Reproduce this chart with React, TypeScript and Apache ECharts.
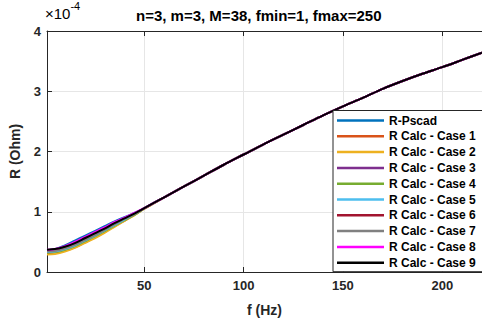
import React, { useEffect, useRef } from "react";
import * as echarts from "echarts";

// Frequency samples (Hz)
const freq = [1, 5, 10, 15, 20, 25, 30, 35, 40, 45, 50, 60, 70, 80, 90, 100, 110, 120, 130, 140, 150, 160, 170, 180, 190, 200, 210, 220];

// Resistance in units of 1e-4 Ohm; low-frequency parts differ per case
const pscadLow = [0.36, 0.38, 0.44, 0.52, 0.6, 0.68, 0.76, 0.84, 0.91, 0.98, 1.06];
const case1Low = [0.3, 0.31, 0.35, 0.41, 0.49, 0.57, 0.66, 0.76, 0.85, 0.95, 1.05];
const case2Low = [0.29, 0.3, 0.34, 0.4, 0.48, 0.56, 0.65, 0.75, 0.85, 0.94, 1.05];
const case3Low = [0.35, 0.36, 0.4, 0.46, 0.54, 0.62, 0.71, 0.8, 0.88, 0.96, 1.06];
const case4Low = [0.32, 0.33, 0.37, 0.43, 0.51, 0.59, 0.68, 0.77, 0.86, 0.95, 1.05];
const case5Low = [0.33, 0.34, 0.38, 0.44, 0.52, 0.6, 0.69, 0.78, 0.87, 0.96, 1.06];
const case6Low = [0.36, 0.37, 0.41, 0.47, 0.55, 0.63, 0.72, 0.81, 0.89, 0.97, 1.06];
const case7Low = [0.34, 0.35, 0.39, 0.45, 0.53, 0.61, 0.7, 0.79, 0.88, 0.96, 1.06];
const case8Low = [0.37, 0.38, 0.43, 0.5, 0.58, 0.66, 0.74, 0.83, 0.9, 0.98, 1.06];
const case9Low = [0.37, 0.38, 0.42, 0.48, 0.56, 0.64, 0.72, 0.81, 0.89, 0.97, 1.06];
// Above 60 Hz all curves coincide
const commonHigh = [1.24, 1.42, 1.6, 1.78, 1.95, 2.12, 2.28, 2.44, 2.6, 2.75, 2.89, 3.04, 3.17, 3.29, 3.4, 3.52, 3.64];

const seriesNames = [
  "R-Pscad",
  "R Calc - Case 1",
  "R Calc - Case 2",
  "R Calc - Case 3",
  "R Calc - Case 4",
  "R Calc - Case 5",
  "R Calc - Case 6",
  "R Calc - Case 7",
  "R Calc - Case 8",
  "R Calc - Case 9",
];
const seriesLow = [pscadLow, case1Low, case2Low, case3Low, case4Low, case5Low, case6Low, case7Low, case8Low, case9Low];
const colors = ["#0072BD", "#D95319", "#EDB120", "#7E2F8E", "#77AC30", "#4DBEEE", "#A2142F", "#808080", "#FF00FF", "#000000"];

const xTicks = [50, 100, 150, 200];
const yTicks = [0, 1, 2, 3, 4];

const FONT = "'Liberation Sans', Arial, sans-serif";
const AXIS = "#262626";

export default function App() {
  const ref = useRef<HTMLDivElement>(null);

  useEffect(() => {
    if (!ref.current) return;
    const chart = echarts.init(ref.current, null, { renderer: "svg" });

    const series = seriesNames.map((name, i) => ({
      name,
      type: "line",
      smooth: 0.3,
      showSymbol: false,
      symbol: "none",
      lineStyle: { width: 2, color: colors[i] },
      itemStyle: { color: colors[i] },
      data: freq.map((f, k) => [f, k < seriesLow[i].length ? seriesLow[i][k] : commonHigh[k - seriesLow[i].length]]),
    }));

    chart.setOption({
      animation: false,
      color: colors,
      title: {
        text: "n=3, m=3, M=38, fmin=1, fmax=250",
        left: 131,
        top: 3,
        textStyle: { fontFamily: FONT, fontSize: 15, fontWeight: "bold", color: "#000" },
      },
      graphic: [
        {
          type: "text",
          left: 45,
          top: 0,
          style: {
            text: "{a|×10}{b|-4}",
            rich: {
              a: { fontFamily: FONT, fontSize: 15, color: AXIS, padding: [9, 0, 0, 0] },
              b: { fontFamily: FONT, fontSize: 11, color: AXIS, padding: [0, 0, 7, 0] },
            },
          },
        },
      ],
      legend: {
        orient: "vertical",
        left: 333,
        top: 110.5,
        icon: "rect",
        itemWidth: 47,
        itemHeight: 2.5,
        itemGap: 1.8,
        padding: [3, 12, 2, 4],
        backgroundColor: "#fff",
        borderColor: AXIS,
        borderWidth: 1,
        borderRadius: 0,
        textStyle: { fontFamily: FONT, fontSize: 12, fontWeight: "bold", color: "#000", lineHeight: 14, padding: [0, 0, 0, 0] },
        data: seriesNames,
      },
      grid: { left: 45, top: 31, right: 0, bottom: 49, containLabel: false },
      xAxis: [
        {
          type: "value",
          min: 1,
          max: 220,
          name: "f (Hz)",
          nameLocation: "middle",
          nameGap: 31,
          nameTextStyle: { fontFamily: FONT, fontSize: 14, fontWeight: "bold", color: AXIS },
          axisLine: { show: true, lineStyle: { color: AXIS, width: 1 } },
          axisTick: { show: true, inside: true, length: 5, lineStyle: { color: AXIS }, customValues: xTicks },
          axisLabel: { customValues: xTicks, fontFamily: FONT, fontSize: 13, fontWeight: "bold", color: AXIS, margin: 7 },
          splitLine: { show: true, lineStyle: { color: "#e6e6e6", width: 1 } },
        },
        {
          type: "value",
          position: "top",
          min: 1,
          max: 220,
          axisLine: { show: true, lineStyle: { color: AXIS, width: 1 } },
          axisTick: { show: true, inside: true, length: 5, lineStyle: { color: AXIS }, customValues: xTicks },
          axisLabel: { show: false },
          splitLine: { show: false },
        },
      ],
      yAxis: {
        type: "value",
        min: 0,
        max: 4,
        interval: 1,
        name: "R (Ohm)",
        nameLocation: "middle",
        nameGap: 25,
        nameTextStyle: { fontFamily: FONT, fontSize: 14, fontWeight: "bold", color: AXIS },
        axisLine: { show: true, lineStyle: { color: AXIS, width: 1 } },
        axisTick: { show: true, inside: true, length: 5, lineStyle: { color: AXIS } },
        axisLabel: {
          fontFamily: FONT,
          fontSize: 13,
          fontWeight: "bold",
          color: AXIS,
          margin: 6,
          formatter: (v: number) => (yTicks.includes(v) ? String(v) : ""),
        },
        splitLine: { show: true, lineStyle: { color: "#e6e6e6", width: 1 } },
      },
      series,
    });

    return () => chart.dispose();
  }, []);

  return (
    <div
      ref={ref}
      style={{ position: "fixed", left: 0, top: 0, width: 482, height: 322, background: "#fff" }}
    />
  );
}
